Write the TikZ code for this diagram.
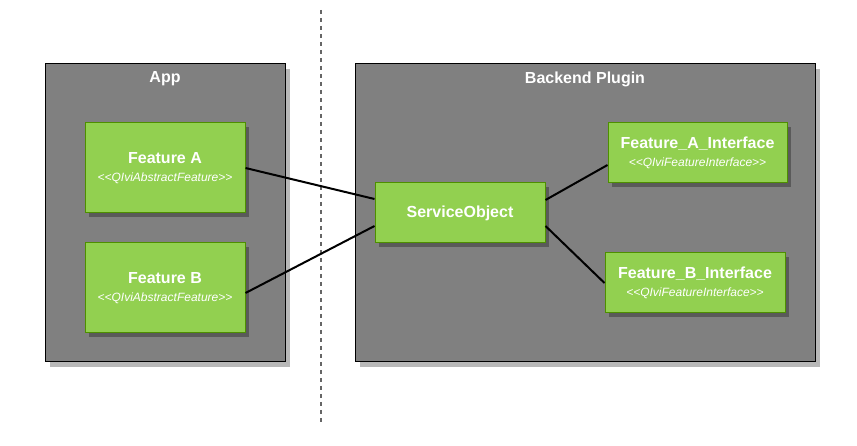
\documentclass[tikz,border=0pt]{standalone}
\usepackage{fontspec}
\setmainfont{Liberation Sans}
\usetikzlibrary{calc}
\definecolor{boxgray}{HTML}{808080}
\definecolor{feat}{HTML}{92D050}
\definecolor{featborder}{HTML}{4E8F00}
\definecolor{shadowlight}{HTML}{B8B8B8}
\definecolor{shadowdark}{HTML}{5A5A5A}
\tikzset{
  container/.style={draw=black, fill=boxgray, line width=1pt},
  contshadow/.style={fill=shadowlight, draw=none},
  featbox/.style={draw=featborder, fill=feat, line width=1pt, text=white, align=center, inner sep=0pt, font=\fontsize{12}{17}\selectfont},
  featshadow/.style={fill=shadowdark, draw=none},
  title/.style={text=white, font=\fontsize{16}{18}\selectfont\bfseries},
  link/.style={draw=black, line width=2pt},
}
\newcommand{\feattext}[2]{{\fontsize{16}{18}\selectfont\bfseries #1}\\[1pt]{\fontsize{12}{14}\selectfont\itshape #2}}
\begin{document}
\begin{tikzpicture}[x=1pt,y=-1pt]
\useasboundingbox (0,0) rectangle (857,446);
% divider
\draw[gray!80!black, line width=1.5pt, dash pattern=on 4pt off 4pt] (321,10) coordinate (d1) -- (321,425) coordinate (d2);
% containers
\fill[contshadow] (50,69) rectangle (290,367);
\draw[container] (45,64) rectangle (285,362);
\node[title] (app) at (165,79) {App};
\fill[contshadow] (360,69) rectangle (820,367);
\draw[container] (355,64) rectangle (815,362);
\node[title] (backend) at (585,79) {Backend Plugin};
% feature boxes shadows
\fill[featshadow] (89,127) rectangle (249,217);
\fill[featshadow] (89,247) rectangle (249,337);
\fill[featshadow] (379,187) rectangle (549,247);
\fill[featshadow] (612,127) rectangle (791,187);
\fill[featshadow] (609,257) rectangle (789,317);
% feature boxes
\node[featbox, minimum width=160pt, minimum height=90pt] (fa) at (165,168) {\feattext{Feature A}{{<}{<}QIviAbstractFeature{>}{>}}};
\node[featbox, minimum width=160pt, minimum height=90pt] (fb) at (165,288) {\feattext{Feature B}{{<}{<}QIviAbstractFeature{>}{>}}};
\node[featbox, minimum width=170pt, minimum height=60pt, font=\fontsize{16}{18}\selectfont\bfseries] (so) at (460,213) {ServiceObject};
\node[featbox, minimum width=179pt, minimum height=60pt] (fai) at (697.5,153) {\feattext{Feature\_A\_Interface}{{<}{<}QIviFeatureInterface{>}{>}}};
\node[featbox, minimum width=180pt, minimum height=60pt] (fbi) at (695,283) {\feattext{Feature\_B\_Interface}{{<}{<}QIviFeatureInterface{>}{>}}};
% connectors
\draw[link] (fa.east) -- ($(so.west)+(0,-14)$);
\draw[link] ($(fb.east)+(0,5)$) -- ($(so.west)+(0,13)$);
\draw[link] ($(so.east)+(0,-13)$) -- ($(fai.west)+(0,12)$);
\draw[link] ($(so.east)+(0,13)$) -- (fbi.west);
\end{tikzpicture}
\end{document}
